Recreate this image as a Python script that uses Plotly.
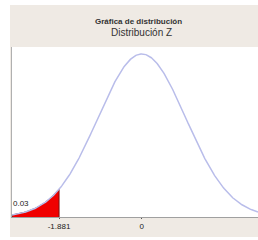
import numpy as np
import plotly.graph_objects as go

# Distribution parameters (Normal / Z)
mean = 0.0
sd = 1.0
critical_value = -1.881
area_label = "0.03"
tick_values = [-1.881, 0]
tick_labels = ["-1.881", "0"]
title_line1 = "Gráfica de distribución"
title_line2 = "Distribución Z"

x_min, x_max = -2.95, 2.64
xs = np.linspace(x_min, x_max, 400)
pdf = np.exp(-0.5 * ((xs - mean) / sd) ** 2) / (sd * np.sqrt(2 * np.pi))

xs_fill = xs[xs <= critical_value]
xs_fill = np.append(xs_fill, critical_value)
pdf_fill = np.exp(-0.5 * ((xs_fill - mean) / sd) ** 2) / (sd * np.sqrt(2 * np.pi))

W, H = 258, 240
ml, mr, mt, mb = 12, 0, 47, 23
pw, ph = W - ml - mr, H - mt - mb
beige = "#EFEAE4"

fig = go.Figure()
fig.add_trace(go.Scatter(
    x=np.concatenate([[xs_fill[0]], xs_fill, [critical_value]]),
    y=np.concatenate([[0], pdf_fill, [0]]),
    fill="toself", fillcolor="#F00000",
    line=dict(color="#7A1010", width=1), mode="lines", hoverinfo="skip"))
fig.add_trace(go.Scatter(x=xs, y=pdf, mode="lines",
                         line=dict(color="#B9BDEA", width=1.5), hoverinfo="skip"))

def px(p):
    return (p - ml) / pw

def py(p):
    return (H - mb - p) / ph

shapes = [
    dict(type="rect", xref="paper", yref="paper", x0=px(0), x1=px(10), y0=py(H), y1=py(0),
         fillcolor="white", line=dict(width=0), layer="below"),
    dict(type="rect", xref="paper", yref="paper", x0=px(0), x1=px(W), y0=py(5), y1=py(0),
         fillcolor="white", line=dict(width=0), layer="below"),
    dict(type="rect", xref="paper", yref="paper", x0=px(0), x1=px(W), y0=py(H), y1=py(237),
         fillcolor="white", line=dict(width=0), layer="below"),
]

annotations = [
    dict(text="<b>" + title_line1 + "</b>", xref="paper", yref="paper", x=px(138), y=py(21),
         showarrow=False, font=dict(size=8, color="#333333"), xanchor="center", yanchor="middle"),
    dict(text=title_line2, xref="paper", yref="paper", x=px(141), y=py(32),
         showarrow=False, font=dict(size=10, color="#333333"), xanchor="center", yanchor="middle"),
    dict(text=area_label, xref="paper", yref="paper", x=px(11), y=py(203),
         showarrow=False, font=dict(size=8, color="#222222"), xanchor="left", yanchor="middle"),
]

fig.update_layout(
    width=W, height=H, margin=dict(l=ml, r=mr, t=mt, b=mb),
    paper_bgcolor=beige, plot_bgcolor="white", showlegend=False,
    shapes=shapes, annotations=annotations,
    xaxis=dict(range=[x_min, x_max], tickvals=tick_values, ticktext=tick_labels,
               showgrid=False, zeroline=False, showline=True, linecolor="#A0A0A0",
               ticks="outside", ticklen=1, tickcolor="#555555",
               tickfont=dict(size=8, color="#222222", family="Liberation Sans")),
    yaxis=dict(range=[0, 0.416], showticklabels=False, showgrid=False, zeroline=False,
               showline=True, linecolor="#B0B0B0", ticks=""),
    font=dict(family="Liberation Sans"),
)

fig.write_html("out.html", config={"displayModeBar": False},
               post_script="document.body.style.margin='0';document.body.style.overflow='hidden';")
